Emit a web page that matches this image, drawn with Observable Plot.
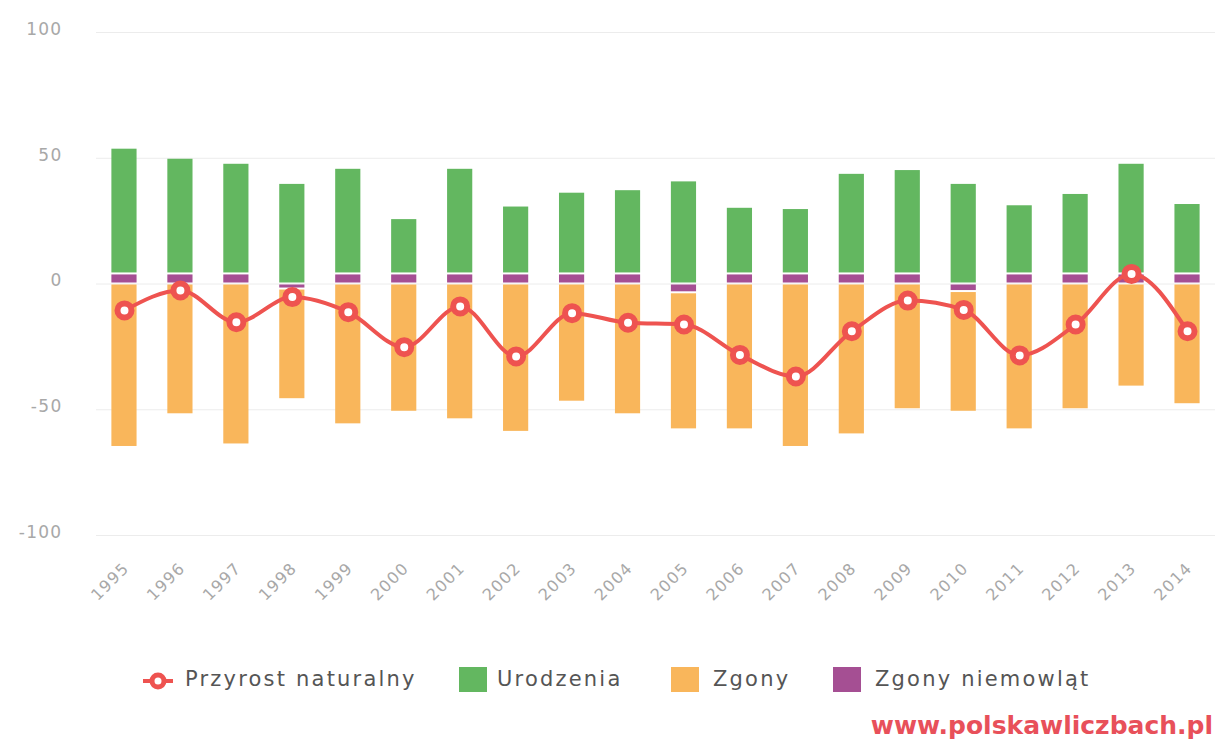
<!DOCTYPE html>
<html>
<head>
<meta charset="utf-8">
<script src="https://cdn.jsdelivr.net/npm/d3@7"></script>
<script src="https://cdn.jsdelivr.net/npm/@observablehq/plot@0.6"></script>
<style>
  body { margin: 0; background: #fff; font-family: "DejaVu Sans", sans-serif; }
  #wrap { position: relative; width: 1216px; height: 740px; overflow: hidden; background: #fff; }
  #chart { position: absolute; left: 0; top: 0; }
  #chart svg text { letter-spacing: 1.3px; }
  #legend { position: absolute; left: 0; top: 650px; }
  #legend text { font-family: "DejaVu Sans", sans-serif; }
</style>
</head>
<body>
<div id="wrap">
  <div id="chart"></div>
  <svg id="legend" width="1216" height="90"></svg>
</div>
<script>
// ---- data ----
const years = ["1995","1996","1997","1998","1999","2000","2001","2002","2003","2004",
               "2005","2006","2007","2008","2009","2010","2011","2012","2013","2014"];
const urodzenia = [50, 46, 44, 40, 42, 22, 42, 27, 32.5, 33.5,
                   41, 26.5, 26, 40, 41.5, 40, 27.5, 32, 44, 28];
const zgony = [65, 52, 64, 44, 56, 51, 54, 59, 47, 52,
               54.5, 58, 65, 60, 50, 48, 58, 50, 41, 48];
const zgonyNiemowlat = [4, 4, 4, -2, 4, 4, 4, 4, 4, 4,
                        -3.5, 4, 4, 4, 4, -3, 4, 4, 4, 4];
const przyrost = [-10.5, -2.6, -15.2, -5.2, -11.2, -25.1, -8.9, -28.8, -11.6, -15.4,
                  -16.1, -28.2, -36.8, -18.8, -6.6, -10.3, -28.4, -16.1, 4.0, -18.8];
const seriesNames = ["Przyrost naturalny", "Urodzenia", "Zgony", "Zgony niemowląt"];
const seriesColors = ["#ee5350", "#63b760", "#f9b65b", "#a54f93"];
const yTicks = [100, 50, 0, -50, -100];
const sourceText = "www.polskawliczbach.pl";

// ---- tables built from the arrays ----
const barRows = years.flatMap((yr, i) => [
  {year: yr, series: seriesNames[3], value: zgonyNiemowlat[i]},
  {year: yr, series: seriesNames[1], value: urodzenia[i]},
  {year: yr, series: seriesNames[2], value: -zgony[i]}
]);
const lineRows = years.map((yr, i) => ({year: yr, value: przyrost[i]}));
const red = seriesColors[0];

const chart = Plot.plot({
  width: 1216,
  height: 650,
  marginLeft: 96,
  marginRight: 1,
  marginTop: 32,
  marginBottom: 115,
  style: {fontFamily: "DejaVu Sans, sans-serif", background: "white"},
  x: {type: "band", domain: years, paddingInner: 0.55, paddingOuter: 0.275, round: false, align: 0.5},
  y: {domain: [-100, 100]},
  color: {domain: seriesNames.slice(1), range: seriesColors.slice(1)},
  marks: [
    Plot.gridY(yTicks, {stroke: "#ececec", strokeOpacity: 1}),
    Plot.barY(barRows, Plot.stackY({x: "year", y: "value", fill: "series", insetTop: 1, insetBottom: 1})),
    Plot.line(lineRows, {x: "year", y: "value", stroke: red, strokeWidth: 4, curve: "monotone-x"}),
    Plot.dot(lineRows, {x: "year", y: "value", r: 7, fill: "white", stroke: red, strokeWidth: 6}),
    Plot.axisY(yTicks, {tickSize: 0, tickPadding: 34, dy: -3, fontSize: 17, color: "#a8a8a8",
                        tickFormat: d => String(d), label: null}),
    Plot.axisX({tickRotate: -45, tickSize: 0, tickPadding: 30, dx: 2, fontSize: 16, color: "#a8a8a8", label: null})
  ]
});
document.getElementById("chart").appendChild(chart);

// ---- legend & source (below the chart) ----
const ns = "http://www.w3.org/2000/svg";
const leg = document.getElementById("legend");
function el(tag, attrs, text) {
  const e = document.createElementNS(ns, tag);
  for (const k in attrs) e.setAttribute(k, attrs[k]);
  if (text != null) e.textContent = text;
  leg.appendChild(e);
  return e;
}
const base = 36;
// line + marker symbol
el("line", {x1: 143, x2: 173, y1: 31, y2: 31, stroke: red, "stroke-width": 4});
el("circle", {cx: 158, cy: 31, r: 6, fill: "white", stroke: red, "stroke-width": 5});
const legendItems = [
  {x: 185, sq: null},
  {x: 497, sq: 459},
  {x: 713, sq: 671},
  {x: 875, sq: 833}
];
legendItems.forEach((it, i) => {
  if (it.sq != null) el("rect", {x: it.sq, y: 17, width: 28, height: 25, fill: seriesColors[i]});
  el("text", {x: it.x, y: base, "font-size": 21, fill: "#555", "letter-spacing": "2.2px"}, seriesNames[i]);
});
el("text", {x: 1213, y: 84, "text-anchor": "end", "font-size": 25, "font-weight": "bold", fill: "#e8505a"}, sourceText);
</script>
</body>
</html>
